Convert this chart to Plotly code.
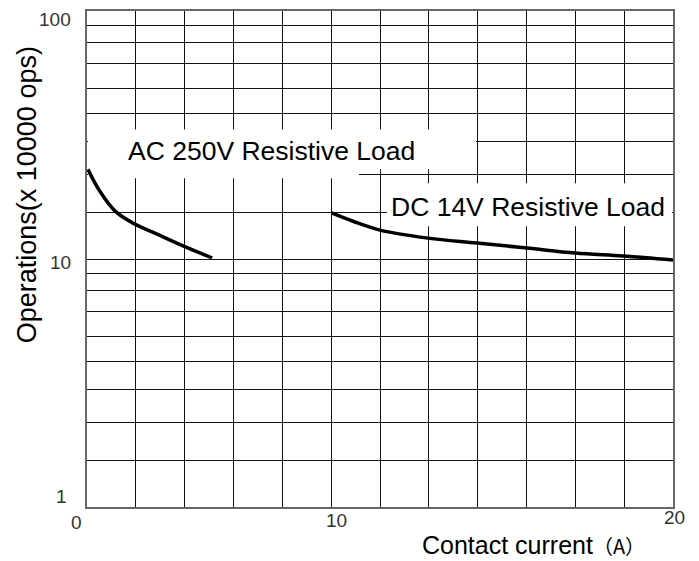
import plotly.graph_objects as go

# ---- data ----
ac_current = [0.03, 0.44, 0.96, 1.57, 2.39, 3.28, 4.27]
ac_operations = [23.0, 18.75, 15.6, 13.95, 12.6, 11.3, 10.1]

dc_current = [8.35, 9.08, 10.0, 11.64, 13.31, 15.02, 16.66, 18.29, 20.0]
dc_operations = [15.35, 14.2, 13.08, 12.14, 11.6, 11.07, 10.57, 10.28, 9.91]

series_names = ["AC 250V Resistive Load", "DC 14V Resistive Load"]

# grid line values within each decade (as drawn in the reference)
decade_steps = [1.545, 2.195, 2.964, 3.876, 4.862, 6.126, 7.472, 8.706]
y_grid = [1] + decade_steps + [10] + [10 * v for v in decade_steps] + [100]

x_tick_labels = ["0", "10", "20"]
y_tick_labels = ["1", "10", "100"]

FONT = "Arial, Liberation Sans, sans-serif"

fig = go.Figure()
fig.add_trace(go.Scatter(x=ac_current, y=ac_operations, mode="lines",
                         line=dict(color="black", width=3.5, shape="spline"),
                         name=series_names[0], showlegend=False))
fig.add_trace(go.Scatter(x=dc_current, y=dc_operations, mode="lines",
                         line=dict(color="black", width=3.5, shape="spline"),
                         name=series_names[1], showlegend=False))

# page body has an 8px margin, so the figure is drawn offset by 8px
OFF = 8
W, H = 699 - OFF, 561 - OFF
L, R, T, B = 87 - OFF, 26, 9 - OFF, 54
pw, ph = W - L - R, H - T - B
X_RANGE = (0, 20)
Y_LOG_RANGE = (0, 2)


def px(xp):
    return (xp - OFF - L) / pw


def py(yp):
    return (H - B - (yp - OFF)) / ph


def to_x(xp):
    return X_RANGE[0] + px(xp) * (X_RANGE[1] - X_RANGE[0])


def to_y(yp):
    return 10 ** (Y_LOG_RANGE[0] + py(yp) * (Y_LOG_RANGE[1] - Y_LOG_RANGE[0]))


fig.update_layout(
    width=W, height=H,
    margin=dict(l=L, r=R, t=T, b=B, pad=0),
    paper_bgcolor="white", plot_bgcolor="white",
    showlegend=False,
    xaxis=dict(range=list(X_RANGE), tick0=0, dtick=20 / 12, showticklabels=False,
               showgrid=True, gridcolor="#111", gridwidth=1, zeroline=False,
               showline=True, linecolor="#666", linewidth=1.5, mirror=True,
               ticks=""),
    yaxis=dict(type="log", range=list(Y_LOG_RANGE), tickvals=y_grid,
               showticklabels=False,
               showgrid=True, gridcolor="#111", gridwidth=1, zeroline=False,
               showline=True, linecolor="#666", linewidth=1.5, mirror=True,
               ticks=""),
)

# white label boxes hiding the grid behind the labels
boxes = [
    (88, 476, 128, 168),
    (88, 359, 166, 177),
    (387, 672, 182, 225),
]
for x0, x1, y0, y1 in boxes:
    fig.add_shape(type="rect", xref="x", yref="y",
                  x0=to_x(x0), x1=to_x(x1), y0=to_y(y1), y1=to_y(y0),
                  fillcolor="white", line=dict(width=0), layer="between")

# series labels
fig.add_annotation(text=series_names[0], xref="paper", yref="paper",
                   x=px(271.5), y=py(150), xanchor="center", yanchor="middle",
                   showarrow=False,
                   font=dict(family=FONT, size=26.5, color="black"))
fig.add_annotation(text=series_names[1], xref="paper", yref="paper",
                   x=px(527.5), y=py(206), xanchor="center", yanchor="middle",
                   showarrow=False,
                   font=dict(family=FONT, size=26.5, color="black"))

# tick labels
x_label_pos = [(76.5, 522.5), (336.5, 520.5), (674, 518)]
for t, (xp, yp) in zip(x_tick_labels, x_label_pos):
    fig.add_annotation(text=t, xref="paper", yref="paper", x=px(xp), y=py(yp),
                       xanchor="center", yanchor="middle", showarrow=False,
                       font=dict(family=FONT, size=19, color="#333"))
y_label_pos = [(69, 496), (73, 262), (73, 17.5)]
for t, (xp, yp) in zip(y_tick_labels, y_label_pos):
    fig.add_annotation(text=t, xref="paper", yref="paper", x=px(xp), y=py(yp),
                       xanchor="right", yanchor="middle", showarrow=False,
                       font=dict(family=FONT, size=19, color="#333"))

# axis titles
fig.add_annotation(text="Operations(x 10000 ops)", xref="paper", yref="paper",
                   x=px(27), y=py(194), xanchor="center", yanchor="middle",
                   textangle=-90, showarrow=False,
                   font=dict(family=FONT, size=27, color="black"))
fig.add_annotation(text="Contact current<span style='font-family:\"Noto Sans CJK SC\";font-size:20px'>（A）</span>",
                   xref="paper", yref="paper",
                   x=px(533), y=py(546), xanchor="center", yanchor="middle",
                   showarrow=False,
                   font=dict(family=FONT, size=25, color="black"))

fig.write_html("out.html")
